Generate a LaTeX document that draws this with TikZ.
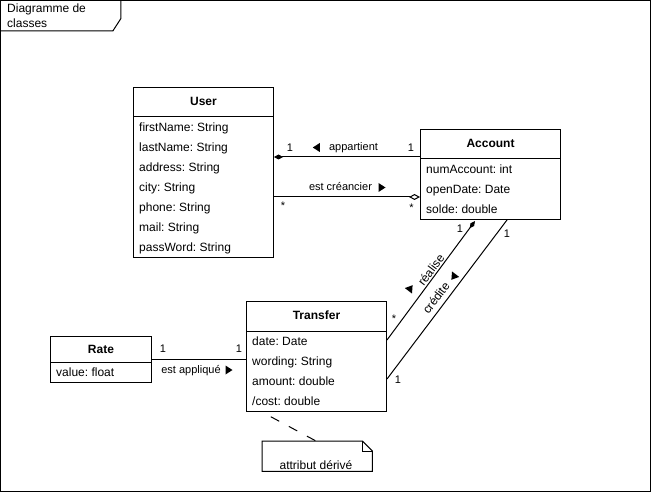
\documentclass[tikz,border=0pt]{standalone}
\usepackage{fontspec}
\setmainfont{Liberation Sans}
\usetikzlibrary{arrows.meta,calc}
\frenchspacing
\begin{document}
\begin{tikzpicture}[x=1pt,y=-1pt,
  ln/.style={line width=1pt},
  box/.style={draw, line width=1pt, anchor=north west, inner sep=0pt},
  ttl/.style={inner sep=0pt, text height=8.6pt, text depth=0pt, font=\fontsize{12}{14}\selectfont\bfseries},
  attr/.style={anchor=west, inner sep=0pt, text height=8.6pt, text depth=0pt, font=\fontsize{12}{14}\selectfont},
  lbl/.style={inner sep=0pt, text height=7.9pt, text depth=0pt, font=\fontsize{11}{13}\selectfont},
  rlbl/.style={inner sep=0pt, text height=8.6pt, text depth=0pt, rotate=53, font=\fontsize{12}{14}\selectfont},
  tri/.pic={\fill (-3.5,-4.5) -- (3.5,0) -- (-3.5,4.5) -- cycle;}]
\useasboundingbox (0,0) rectangle (651,492);
% frame
\draw[ln] (0.5,0.5) rectangle (650.5,491.5);
\node[inner sep=0pt, minimum width=120pt, minimum height=30pt, anchor=north west] (frm) at (0.5,0.5) {};
\draw[ln] (frm.north east) -- ($(frm.north east)+(0,18)$) -- ($(frm.south east)+(-8,0)$) -- (frm.south west);
\node[anchor=west, align=left, inner sep=0pt, font=\fontsize{12}{14.5}\selectfont] (frmtxt) at (7,15.5) {Diagramme de\\classes};

% User
\node[box, minimum width=140pt, minimum height=170pt] (user) at (133,87) {};
\draw[ln] ($(user.north west)+(0,30)$) -- ($(user.north east)+(0,30)$);
\node[ttl] (usert) at ($(user.north)+(0,14)$) {User};
\foreach \t [count=\i] in {firstName: String,lastName: String,address: String,city: String,phone: String,mail: String,passWord: String}
  \node[attr] (u\i) at ($(user.north west)+(6,20*\i+20)$) {\t};

% Account
\node[box, minimum width=140pt, minimum height=90pt] (account) at (420,129) {};
\draw[ln] ($(account.north west)+(0,30)$) -- ($(account.north east)+(0,30)$);
\node[ttl] (acct) at ($(account.north)+(0,14)$) {Account};
\foreach \t [count=\i] in {numAccount: int,openDate: Date,solde: double}
  \node[attr] (a\i) at ($(account.north west)+(6,20*\i+20)$) {\t};

% Transfer
\node[box, minimum width=140pt, minimum height=110pt] (transfer) at (246,301) {};
\draw[ln] ($(transfer.north west)+(0,30)$) -- ($(transfer.north east)+(0,30)$);
\node[ttl] (trt) at ($(transfer.north)+(0,14)$) {Transfer};
\foreach \t [count=\i] in {date: Date,wording: String,amount: double,/cost: double}
  \node[attr] (t\i) at ($(transfer.north west)+(6,20*\i+20)$) {\t};

% Rate
\node[box, minimum width=101pt, minimum height=46pt] (rate) at (50,336) {};
\draw[ln] ($(rate.north west)+(0,26)$) -- ($(rate.north east)+(0,26)$);
\node[ttl] (ratet) at ($(rate.north)+(0,13.5)$) {Rate};
\node[attr] (r1) at ($(rate.north west)+(6,36)$) {value: float};

% Note
\node[inner sep=0pt, minimum width=110pt, minimum height=30pt, anchor=north west] (note) at (262,441) {};
\draw[ln] (note.north west) -- ($(note.north east)+(-10,0)$) -- ($(note.north east)+(0,10)$) -- (note.south east) -- (note.south west) -- cycle;
\draw[ln] ($(note.north east)+(-10,0)$) -- ($(note.north east)+(-10,10)$) -- ($(note.north east)+(0,10)$);
\node[inner sep=0pt, text height=8.6pt, text depth=0pt, font=\fontsize{12}{14}\selectfont] (notet) at (316,465) {attribut dérivé};
\draw[ln, dash pattern=on 9.5pt off 11pt, dash phase=10.5pt] ($(transfer.south west)+(16,0)$) -- ($(note.north west)+(54,0)$);

% appartient
\draw[ln, {Diamond[length=9pt,width=5pt]}-] ($(user.north east)+(0,70)$) -- ($(account.north west)+(0,28)$);
\node[lbl] (m1) at (290,148) {1};
\node[lbl] (m2) at (411,148) {1};
\node[lbl] (app) at (353.5,146.5) {appartient};
\pic[rotate=180] at (316.3,147.5) {tri};

% est creancier
\draw[ln, -{Diamond[open,length=11pt,width=6pt]}] ($(user.north east)+(0,110)$) -- ($(account.north west)+(0,68)$);
\node[lbl] (m3) at (283,206) {*};
\node[lbl] (m4) at (411.5,208) {*};
\node[lbl] (cr) at (340.5,186.5) {est créancier};
\pic at (382,187.5) {tri};

% realise
\draw[ln, -{Diamond[length=9pt,width=4.5pt]}] ($(transfer.north east)+(0,39)$) -- ($(account.south west)+(55,1)$);
\node[lbl] (m5) at (394,319) {*};
\node[lbl] (m6) at (460,229) {1};
\node[rlbl] (rea) at (431,270) {réalise};
\pic[rotate=53] at (410.5,288) {tri};

% credite
\draw[ln] ($(transfer.north east)+(0,78)$) -- ($(account.south west)+(87,0)$);
\node[lbl] (m7) at (398,380) {1};
\node[lbl] (m8) at (507,234) {1};
\node[rlbl] (cre) at (436,298) {crédite};
\pic[rotate=233] at (453.5,277) {tri};

% est applique
\draw[ln] ($(rate.north east)+(0,23)$) -- ($(transfer.north west)+(0,58)$);
\node[lbl] (m9) at (163,349) {1};
\node[lbl] (m10) at (239,349) {1};
\node[lbl] (ea) at (191,370) {est appliqué};
\pic at (229,370) {tri};
\end{tikzpicture}
\end{document}
